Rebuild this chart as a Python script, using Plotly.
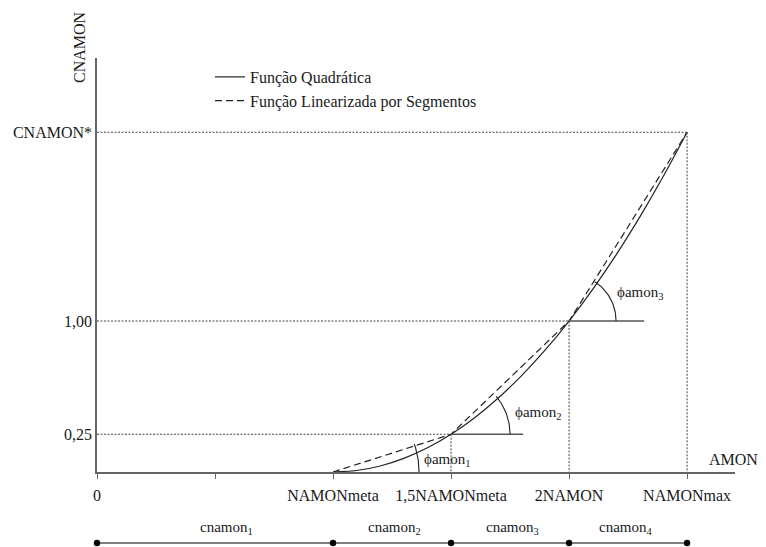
import math
import plotly.graph_objects as go

# ---------------- data ----------------
x_ticks = [0, 0.5, 1.0, 1.5, 2.0, 2.5]
x_tick_labels = ["0", "", "NAMONmeta", "1,5NAMONmeta", "2NAMON", "NAMONmax"]
y_ticks = [0.25, 1.0, 2.25]
y_tick_labels = ["0,25", "1,00", "CNAMON*"]

# quadratic function
quad_x = [1.0, 1.1, 1.2, 1.3, 1.4, 1.5, 1.6, 1.7, 1.8, 1.9, 2.0,
          2.1, 2.2, 2.3, 2.4, 2.5]
quad_y = [0.0, 0.01, 0.04, 0.09, 0.16, 0.25, 0.36, 0.49, 0.64, 0.81, 1.0,
          1.21, 1.44, 1.69, 1.96, 2.25]

# piecewise linear approximation (break points)
lin_x = [1.0, 1.5, 2.0, 2.5]
lin_y = [0.0, 0.25, 1.0, 2.25]

# angle reference segments (start x, end x, y)
ref_start_x = [1.5, 2.0]
ref_end_x = [1.805, 2.318]
ref_y = [0.25, 1.0]

# angle arcs
arc_center_x = [1.0, 1.5, 2.0]
arc_center_y = [0.0, 0.25, 1.0]
arc_radius_px = [86, 59, 47]
arc_end_deg = [19, 40, 57]
arc_labels = ["ϕamon<sub>1</sub>", "ϕamon<sub>2</sub>", "ϕamon<sub>3</sub>"]
arc_label_x = [1.483, 1.869, 2.301]
arc_label_y = [0.08, 0.39, 1.188]

# bottom intervals
seg_points = [0, 1.0, 1.5, 2.0, 2.5]
seg_labels = ["cnamon<sub>1</sub>", "cnamon<sub>2</sub>",
              "cnamon<sub>3</sub>", "cnamon<sub>4</sub>"]
seg_label_x = [0.55, 1.26, 1.76, 2.24]

# ---------------- layout geometry ----------------
PAGE_W, PAGE_H = 766, 547
OFF = 8                      # browser body margin
W, H = PAGE_W - OFF, PAGE_H - OFF
PLOT_L, PLOT_R, PLOT_T, PLOT_B = 97, 735, 58, 472   # page pixels
ML, MR, MT, MB = PLOT_L - OFF, PAGE_W - PLOT_R, PLOT_T - OFF, PAGE_H - PLOT_B
XR = [0, 2.703]
YR = [0, 2.742]
plot_w = PLOT_R - PLOT_L
plot_h = PLOT_B - PLOT_T
sx = plot_w / (XR[1] - XR[0])
sy = plot_h / (YR[1] - YR[0])


def px_to_paper_x(px):
    return (px - PLOT_L) / plot_w


def px_to_paper_y(py):
    return (PLOT_B - py) / plot_h


def data_to_paper_x(x):
    return (x - XR[0]) / (XR[1] - XR[0])


FONT = "Liberation Serif"
TXT = "#1a1a1a"
AX = "#666666"
DOT = "#444444"

fig = go.Figure()

# quadratic
fig.add_trace(go.Scatter(
    x=quad_x, y=quad_y, mode="lines", name="Função Quadrática",
    line=dict(color="#222222", width=1.2, shape="spline", smoothing=0.6),
))
# linearized
fig.add_trace(go.Scatter(
    x=lin_x, y=lin_y, mode="lines", name="Função Linearizada por Segmentos",
    line=dict(color="#222222", width=1.2, dash="7px,4px"),
))

# dotted guides
for xv, yv in zip(lin_x[1:], lin_y[1:]):
    fig.add_trace(go.Scatter(x=[0, xv], y=[yv, yv], mode="lines", showlegend=False,
                             hoverinfo="skip",
                             line=dict(color=DOT, width=1, dash="2px,1.5px")))
    fig.add_trace(go.Scatter(x=[xv, xv], y=[yv, 0], mode="lines", showlegend=False,
                             hoverinfo="skip",
                             line=dict(color=DOT, width=1, dash="2px,1.5px")))

# horizontal angle reference lines
for x0, x1, yv in zip(ref_start_x, ref_end_x, ref_y):
    fig.add_trace(go.Scatter(x=[x0, x1], y=[yv, yv], mode="lines", showlegend=False,
                             hoverinfo="skip", line=dict(color="#555555", width=1.3)))

# arcs
for cx, cy, r, a_end, lab, lx, ly in zip(arc_center_x, arc_center_y, arc_radius_px,
                                         arc_end_deg, arc_labels, arc_label_x, arc_label_y):
    n = 30
    ts = [math.radians(a_end * i / n) for i in range(n + 1)]
    ax_ = [cx + r * math.cos(t) / sx for t in ts]
    ay_ = [cy + r * math.sin(t) / sy for t in ts]
    fig.add_trace(go.Scatter(x=ax_, y=ay_, mode="lines", showlegend=False,
                             hoverinfo="skip", line=dict(color="#222222", width=1.1)))
    fig.add_annotation(x=lx, y=ly, xref="x", yref="y", text=lab, showarrow=False,
                       xanchor="center", yanchor="middle",
                       font=dict(family=FONT, size=15, color=TXT))

# bottom interval line
bottom_y = px_to_paper_y(543)
label_y = px_to_paper_y(528)
fig.add_shape(type="line", xref="paper", yref="paper",
              x0=data_to_paper_x(seg_points[0]), x1=data_to_paper_x(seg_points[-1]),
              y0=bottom_y, y1=bottom_y, line=dict(color="#555555", width=1.5))
for p in seg_points:
    fig.add_shape(type="circle", xref="paper", yref="paper", xsizemode="pixel",
                  ysizemode="pixel", xanchor=data_to_paper_x(p), yanchor=bottom_y,
                  x0=-3.2, x1=3.2, y0=-3.2, y1=3.2,
                  fillcolor="#000000", line=dict(color="#000000", width=0))
for lx, lab in zip(seg_label_x, seg_labels):
    fig.add_annotation(x=data_to_paper_x(lx), y=label_y, xref="paper", yref="paper",
                       text=lab, showarrow=False, xanchor="center", yanchor="middle",
                       font=dict(family=FONT, size=15, color=TXT))

# axis titles
fig.add_annotation(x=px_to_paper_x(79), y=px_to_paper_y(47), xref="paper", yref="paper",
                   text="CNAMON", textangle=-90, showarrow=False,
                   xanchor="center", yanchor="middle",
                   font=dict(family=FONT, size=16, color=TXT))
fig.add_annotation(x=px_to_paper_x(733), y=px_to_paper_y(459), xref="paper", yref="paper",
                   text="AMON", showarrow=False, xanchor="center", yanchor="middle",
                   font=dict(family=FONT, size=16, color=TXT))

fig.update_layout(
    width=W, height=H,
    margin=dict(l=ML, r=MR, t=MT, b=MB, autoexpand=False),
    paper_bgcolor="white", plot_bgcolor="white",
    font=dict(family=FONT, size=16, color=TXT),
    legend=dict(x=px_to_paper_x(210), y=px_to_paper_y(60),
                xanchor="left", yanchor="top", bgcolor="rgba(0,0,0,0)",
                font=dict(family=FONT, size=16, color=TXT)),
    xaxis=dict(range=XR, showgrid=False, zeroline=False, showline=True,
               linecolor=AX, linewidth=1.5, tickvals=x_ticks, ticktext=x_tick_labels,
               ticks="outside", ticklen=5, tickcolor=AX, tickwidth=1,
               ticklabelstandoff=3,
               tickfont=dict(family=FONT, size=16, color=TXT)),
    yaxis=dict(range=YR, showgrid=False, zeroline=False, showline=True,
               linecolor=AX, linewidth=1.5, tickvals=y_ticks, ticktext=y_tick_labels,
               ticks="", tickfont=dict(family=FONT, size=16, color=TXT)),
)

fig.write_html("out.html")
